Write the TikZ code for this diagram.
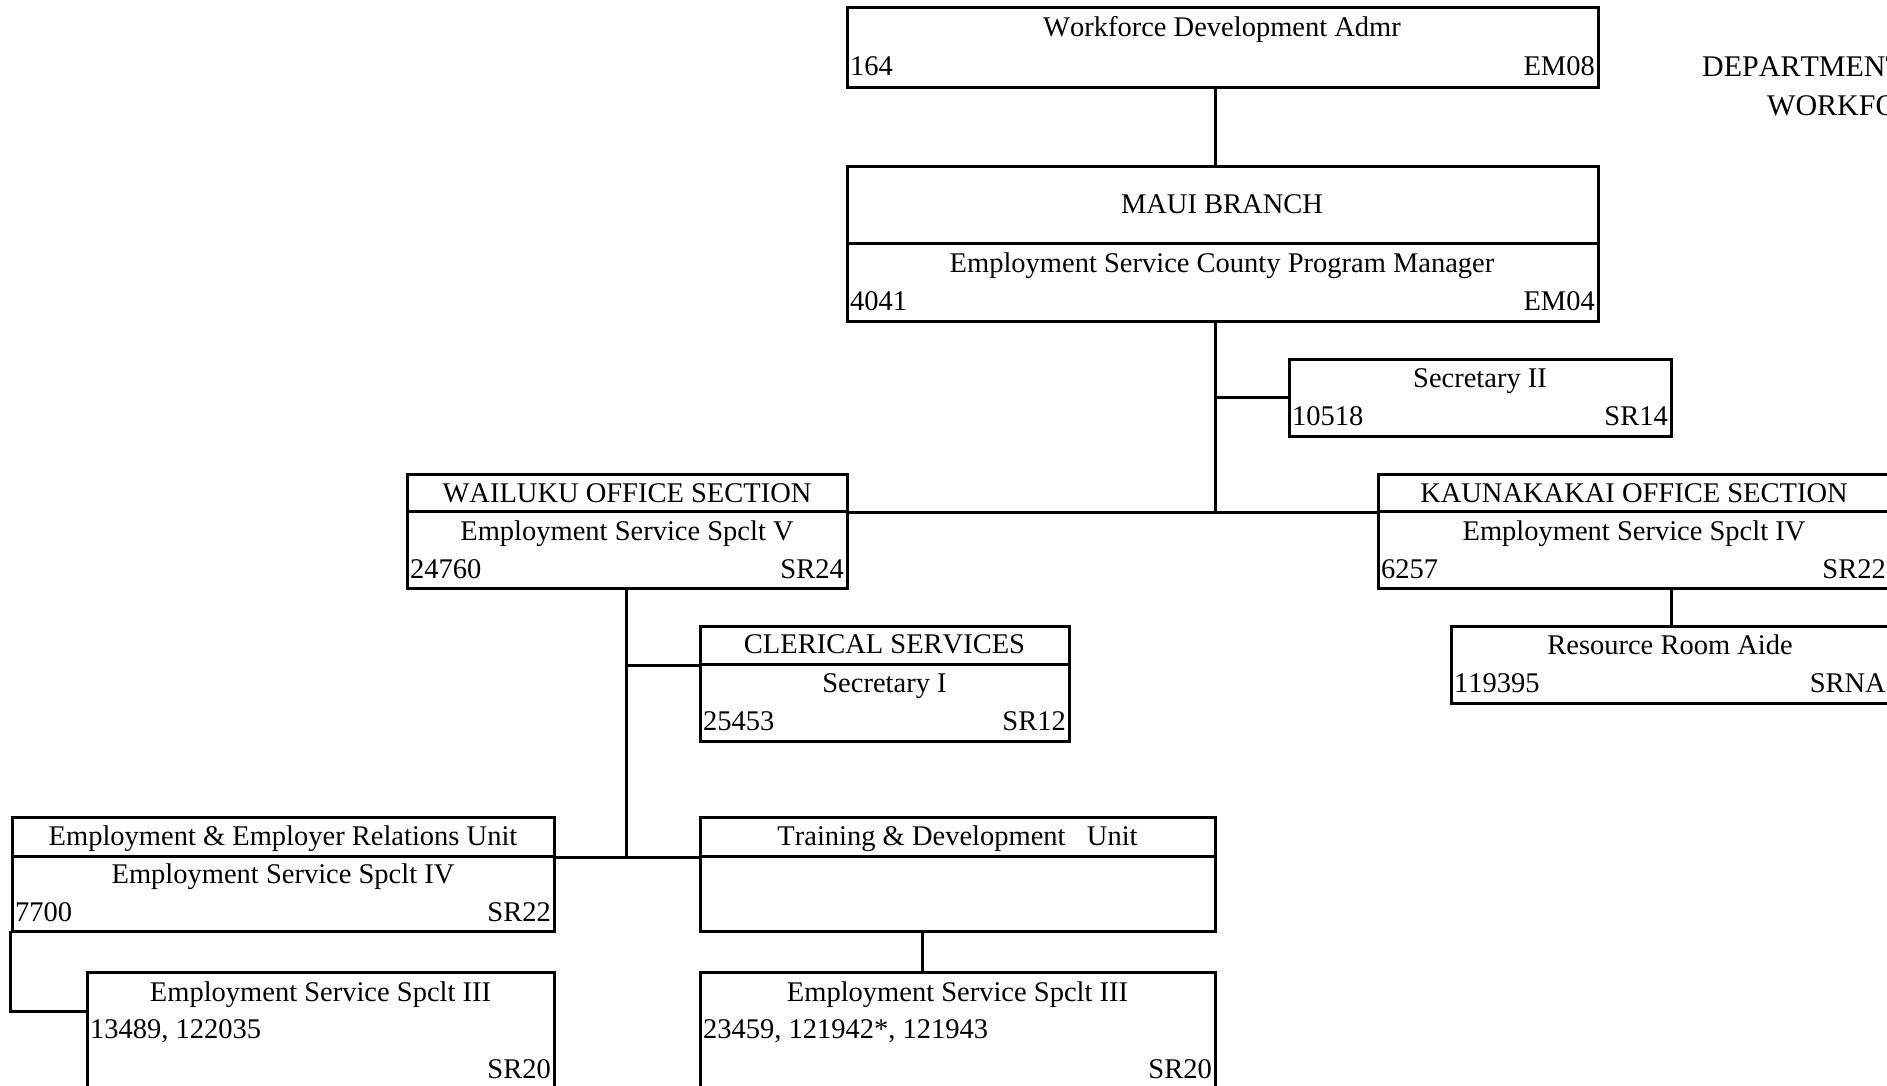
\documentclass[tikz,border=0pt]{standalone}
\usepackage{fontspec}
\setmainfont{Liberation Serif}[Kerning=Off]
\usetikzlibrary{fit}
\begin{document}
\begin{tikzpicture}[x=1pt,y=-1pt,
  cell/.style={draw, line width=3pt, inner sep=0pt},
  txt/.style={anchor=base, inner sep=0pt, font=\fontsize{28.5}{34}\selectfont},
  ltxt/.style={txt, anchor=base west},
  rtxt/.style={txt, anchor=base east},
  headtxt/.style={anchor=base west, inner sep=0pt, font=\fontsize{30}{36}\selectfont},
  link/.style={line width=3pt, line cap=rect}]
\useasboundingbox (0,0) rectangle (1887,1085);
\clip (0,0) rectangle (1887,1085);

% ---- boxes ----
\node[cell, fit={(847,7) (1598,87)}]     (wfd)   {};
\node[cell, fit={(847,166) (1598,243)}]  (mauiT) {};
\node[cell, fit={(847,243) (1598,321)}]  (mauiB) {};
\node[cell, fit={(1289,359) (1671,436)}] (sec)   {};
\node[cell, fit={(407,474) (847,511)}]   (wailT) {};
\node[cell, fit={(407,511) (847,588)}]   (wailB) {};
\node[cell, fit={(1378,474) (1889,511)}] (kauT)  {};
\node[cell, fit={(1378,511) (1889,588)}] (kauB)  {};
\node[cell, fit={(1451,626) (1889,703)}] (rra)   {};
\node[cell, fit={(700,626) (1069,664)}]  (clerT) {};
\node[cell, fit={(700,664) (1069,741)}]  (clerB) {};
\node[cell, fit={(12,817) (554,856)}]    (eerT)  {};
\node[cell, fit={(12,856) (554,931)}]    (eerB)  {};
\node[cell, fit={(700,817) (1215,856)}]  (tduT)  {};
\node[cell, fit={(700,856) (1215,931)}]  (tduB)  {};
\node[cell, fit={(87,972) (554,1100)}]   (essA)  {};
\node[cell, fit={(700,972) (1215,1100)}] (essB)  {};

% ---- connector positions ----
\coordinate (trunk) at (1215,0);
\coordinate (wdrop) at (626,0);
\coordinate (kdrop) at (1671,0);
\coordinate (tdrop) at (922,0);
\coordinate (eerjoin) at (87,1011);

% ---- connectors ----
\draw[link] (wfd.south -| trunk) -- (mauiT.north -| trunk);
\draw[link] (mauiB.south -| trunk) -- (trunk |- wailT.south east);
\draw[link] (trunk |- sec.west) -- (sec.west);
\draw[link] (wailT.south east) -- (kauT.south west);
\draw[link] (kauB.south -| kdrop) -- (rra.north -| kdrop);
\draw[link] (wailB.south -| wdrop) -- (wdrop |- eerT.south east);
\draw[link] (wdrop |- clerT.south west) -- (clerT.south west);
\draw[link] (eerT.south east) -- (tduT.south west);
\draw[link] (tduB.south -| tdrop) -- (essB.north -| tdrop);
\draw[link] (eerB.south west) |- (eerjoin);

% ---- texts ----
\node[txt]  (t1)  at (1222,36)   {Workforce Development Admr};
\node[ltxt] (t2)  at (850,75.5)  {164};
\node[rtxt] (t3)  at (1595,75.5) {EM08};

\node[headtxt] (h1) at (1702,76)  {DEPARTMENT};
\node[headtxt] (h2) at (1767,115) {WORKFORCE};

\node[txt]  (t4)  at (1222,213) {MAUI BRANCH};
\node[txt]  (t5)  at (1222,272) {Employment Service County Program Manager};
\node[ltxt] (t6)  at (850,310)  {4041};
\node[rtxt] (t7)  at (1595,310) {EM04};

\node[txt]  (t8)  at (1480,387.5) {Secretary II};
\node[ltxt] (t9)  at (1292,425.5) {10518};
\node[rtxt] (t10) at (1668,425.5) {SR14};

\node[txt]  (t11) at (627,502) {WAILUKU OFFICE SECTION};
\node[txt]  (t12) at (627,540) {Employment Service Spclt V};
\node[ltxt] (t13) at (410,578) {24760};
\node[rtxt] (t14) at (844,578) {SR24};

\node[txt]  (t15) at (1634,502) {KAUNAKAKAI OFFICE SECTION};
\node[txt]  (t16) at (1634,540) {Employment Service Spclt IV};
\node[ltxt] (t17) at (1381,578) {6257};
\node[rtxt] (t18) at (1886,578) {SR22};

\node[txt]  (t19) at (1670,654.5) {Resource Room Aide};
\node[ltxt] (t20) at (1454,692)   {119395};
\node[rtxt] (t21) at (1886,692)   {SRNA};

\node[txt]  (t22) at (884.5,653.5) {CLERICAL SERVICES};
\node[txt]  (t23) at (884.5,692)   {Secretary I};
\node[ltxt] (t24) at (703,730)     {25453};
\node[rtxt] (t25) at (1066,730)    {SR12};

\node[txt]  (t26) at (283,845.5) {Employment \& Employer Relations Unit};
\node[txt]  (t27) at (283,883.5) {Employment Service Spclt IV};
\node[ltxt] (t28) at (15,921.5)  {7700};
\node[rtxt] (t29) at (551,921.5) {SR22};

\node[txt]  (t30) at (957.5,845.5) {Training \& Development\ \ \ Unit};

\node[txt]  (t31) at (320.5,1001.5) {Employment Service Spclt III};
\node[ltxt] (t32) at (90,1038.5)    {13489, 122035};
\node[rtxt] (t33) at (551,1078.5)   {SR20};

\node[txt]  (t34) at (957.5,1001.5) {Employment Service Spclt III};
\node[ltxt] (t35) at (703,1038.5)   {23459, 121942*, 121943};
\node[rtxt] (t36) at (1212,1078.5)  {SR20};
\end{tikzpicture}
\end{document}
